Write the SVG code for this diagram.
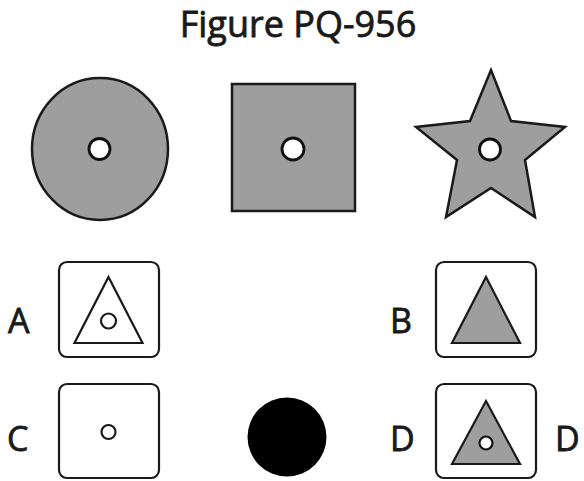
<svg xmlns="http://www.w3.org/2000/svg" width="584" height="481" viewBox="0 0 584 481">
<style>
.t{font-family:"Open Sans","Liberation Sans",sans-serif;fill:#1a1a1a;stroke:#1a1a1a;stroke-width:0.8;font-weight:400}
.lbl{font-size:34px}
.shape{fill:#9e9e9e;stroke:#1a1a1a;stroke-width:2.5;stroke-linejoin:miter}
.hole{fill:#fff;stroke:#111;stroke-width:2.8}
.box{fill:#fff;stroke:#1a1a1a;stroke-width:2.2}
.tri{fill:#fff;stroke:#1a1a1a;stroke-width:2.2}
.trig{fill:#9e9e9e;stroke:#1a1a1a;stroke-width:2.2}
</style>
<rect width="584" height="481" fill="#fff"/>
<text class="t" x="298" y="37" font-size="36" text-anchor="middle">Figure PQ-956</text>
<g id="circle-shape">
<ellipse class="shape" cx="100" cy="149" rx="68" ry="71"/>
<circle class="hole" cx="99.5" cy="149" r="10.5"/>
</g>
<g id="square-shape">
<rect class="shape" x="232" y="84" width="123" height="127"/>
<circle class="hole" cx="293" cy="149" r="11"/>
</g>
<g id="star-shape">
<polygon class="shape" points="491,70 511,121 565,127 525,160 535,217 491,188 446,217 457,160 416,127 470,121"/>
<circle class="hole" cx="490" cy="149.5" r="10.5"/>
</g>
<g id="option-a">
<text class="t lbl" x="8" y="333">A</text>
<rect class="box" x="59" y="262" width="100" height="95" rx="8"/>
<polygon class="tri" points="108.5,277 142.5,343 74.5,343"/>
<circle class="tri" cx="108.5" cy="321" r="7.5"/>
</g>
<g id="option-b">
<text class="t lbl" x="390" y="333">B</text>
<rect class="box" x="436" y="262" width="100" height="95" rx="8"/>
<polygon class="trig" points="486,277 520,343 452,343"/>
</g>
<g id="option-c">
<text class="t lbl" x="7" y="451">C</text>
<rect class="box" x="59" y="384" width="100" height="94" rx="8"/>
<circle class="tri" cx="108.5" cy="432" r="7"/>
</g>
<g id="black-circle">
<circle cx="287" cy="437" r="39.5" fill="#000"/>
</g>
<g id="option-d">
<text class="t lbl" x="390" y="451">D</text>
<rect class="box" x="436" y="384" width="100" height="94" rx="8"/>
<polygon class="trig" points="486,401 520,464 452,464"/>
<circle class="hole" cx="486" cy="443" r="6.5" style="stroke-width:2.2"/>
<text class="t lbl" x="555" y="451">D</text>
</g>
<g id="connectors"/>
</svg>
